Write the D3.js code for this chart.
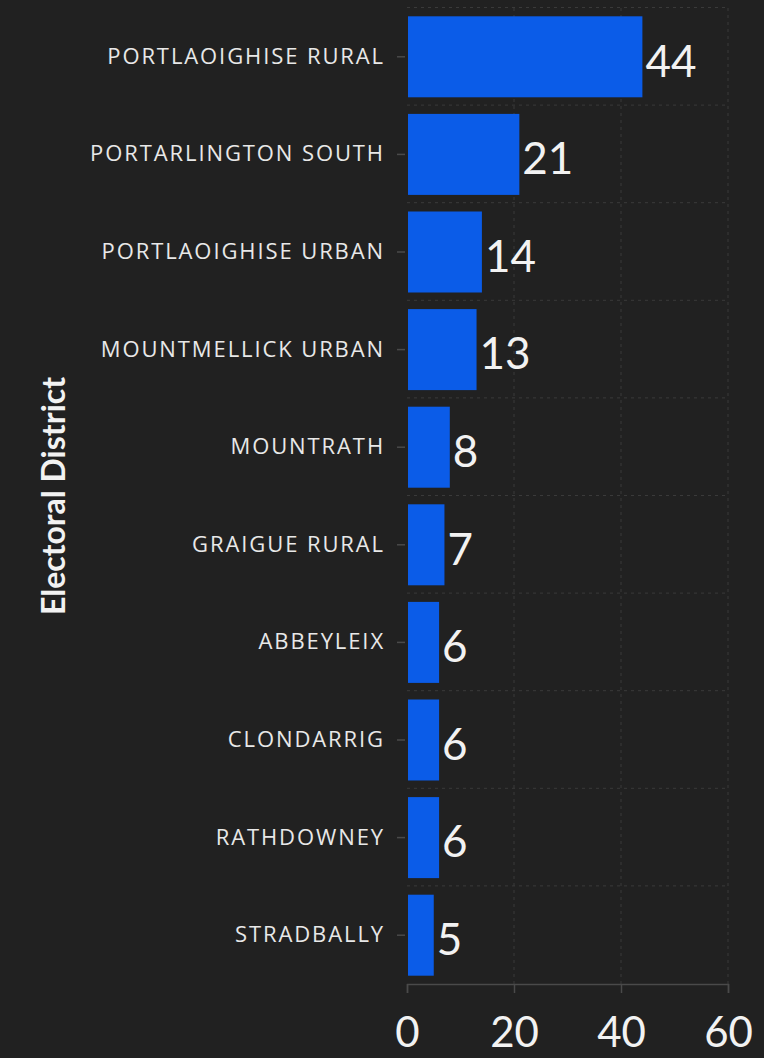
<!DOCTYPE html>
<html>
<head>
<meta charset="utf-8">
<script src="https://cdnjs.cloudflare.com/ajax/libs/d3/7.8.5/d3.min.js"></script>
<style>
  html, body { margin: 0; padding: 0; background: #212121; }
  svg { display: block; }
</style>
</head>
<body>
<script>
// datos
var distritos = ["PORTLAOIGHISE RURAL", "PORTARLINGTON SOUTH", "PORTLAOIGHISE URBAN",
                 "MOUNTMELLICK URBAN", "MOUNTRATH", "GRAIGUE RURAL", "ABBEYLEIX",
                 "CLONDARRIG", "RATHDOWNEY", "STRADBALLY"];
var valores = [44, 21, 14, 13, 8, 7, 6, 6, 6, 5];
var ticksX = [0, 20, 40, 60];

var width = 764, height = 1058;
var margin = { top: 8, bottom: 74, left: 407, right: 36 };

var svg = d3.select("body").append("svg")
    .attr("width", width)
    .attr("height", height);

svg.append("rect").attr("width", width).attr("height", height).attr("fill", "#212121");

var escalaX = d3.scaleLinear()
    .domain([0, 60])
    .range([margin.left, width - margin.right]);

var escalaY = d3.scaleBand()
    .domain(distritos)
    .range([margin.top, height - margin.bottom])
    .paddingInner(0.17)
    .paddingOuter(0.085);

// rejilla vertical
svg.append("g").selectAll("line")
    .data(ticksX.slice(1))
    .join("line")
    .attr("x1", d => escalaX(d)).attr("x2", d => escalaX(d))
    .attr("y1", margin.top).attr("y2", height - margin.bottom)
    .attr("stroke", "#3a3a3a")
    .attr("stroke-dasharray", "3,4");

// rejilla horizontal (entre bandas)
var paso = escalaY.step();
svg.append("g").selectAll("line")
    .data(distritos)
    .join("line")
    .attr("x1", margin.left).attr("x2", width - margin.right)
    .attr("y1", d => escalaY(d) - paso * 0.085 - 0.5)
    .attr("y2", d => escalaY(d) - paso * 0.085 - 0.5)
    .attr("stroke", "#3a3a3a")
    .attr("stroke-dasharray", "3,4");

// barras
svg.append("g").selectAll("rect")
    .data(valores)
    .join("rect")
    .attr("x", escalaX(0) + 1)
    .attr("y", (d, i) => escalaY(distritos[i]))
    .attr("width", d => escalaX(d) - escalaX(0) - 1)
    .attr("height", escalaY.bandwidth())
    .attr("fill", "#0b5ce8");

// etiquetas de valor
svg.append("g").selectAll("text")
    .data(valores)
    .join("text")
    .attr("x", d => escalaX(d) + 3)
    .attr("y", (d, i) => escalaY(distritos[i]) + escalaY.bandwidth() / 2 + 4)
    .attr("dy", "0.36em")
    .attr("fill", "#f2f2f2")
    .style("font-family", "Lato, 'Open Sans', sans-serif")
    .style("font-size", "44px")
    .text(d => d);

// eje X
var ejeX = d3.axisBottom(escalaX).tickValues(ticksX).tickSize(9).tickPadding(24);
var gX = svg.append("g")
    .attr("transform", "translate(0," + (height - margin.bottom) + ")")
    .call(ejeX);
gX.select(".domain").attr("stroke", "#4a4a4a").attr("stroke-width", 1.5);
gX.selectAll(".tick line").attr("stroke", "#4a4a4a").attr("stroke-width", 1.5);
gX.selectAll(".tick text")
    .attr("fill", "#f2f2f2")
    .style("font-family", "Lato, 'Open Sans', sans-serif")
    .style("font-size", "42px");

// eje Y
var ejeY = d3.axisLeft(escalaY).tickSize(8).tickPadding(12);
var gY = svg.append("g")
    .attr("transform", "translate(" + (margin.left - 2) + ",0)")
    .call(ejeY);
gY.select(".domain").remove();
gY.selectAll(".tick line").attr("stroke", "#4a4a4a").attr("stroke-width", 1.5);
gY.selectAll(".tick text")
    .attr("fill", "#e8e8e8")
    .style("font-family", "'Open Sans', sans-serif")
    .style("font-size", "22px")
    .style("letter-spacing", "1.9px");

// título eje Y
svg.append("text")
    .attr("transform", "translate(54," + ((margin.top + height - margin.bottom) / 2) + ") rotate(-90)")
    .attr("text-anchor", "middle")
    .attr("dy", "0.35em")
    .attr("fill", "#f2f2f2")
    .style("font-family", "Lato, 'Open Sans', sans-serif")
    .style("font-weight", "bold")
    .style("font-size", "32px")
    .text("Electoral District");
</script>
</body>
</html>
